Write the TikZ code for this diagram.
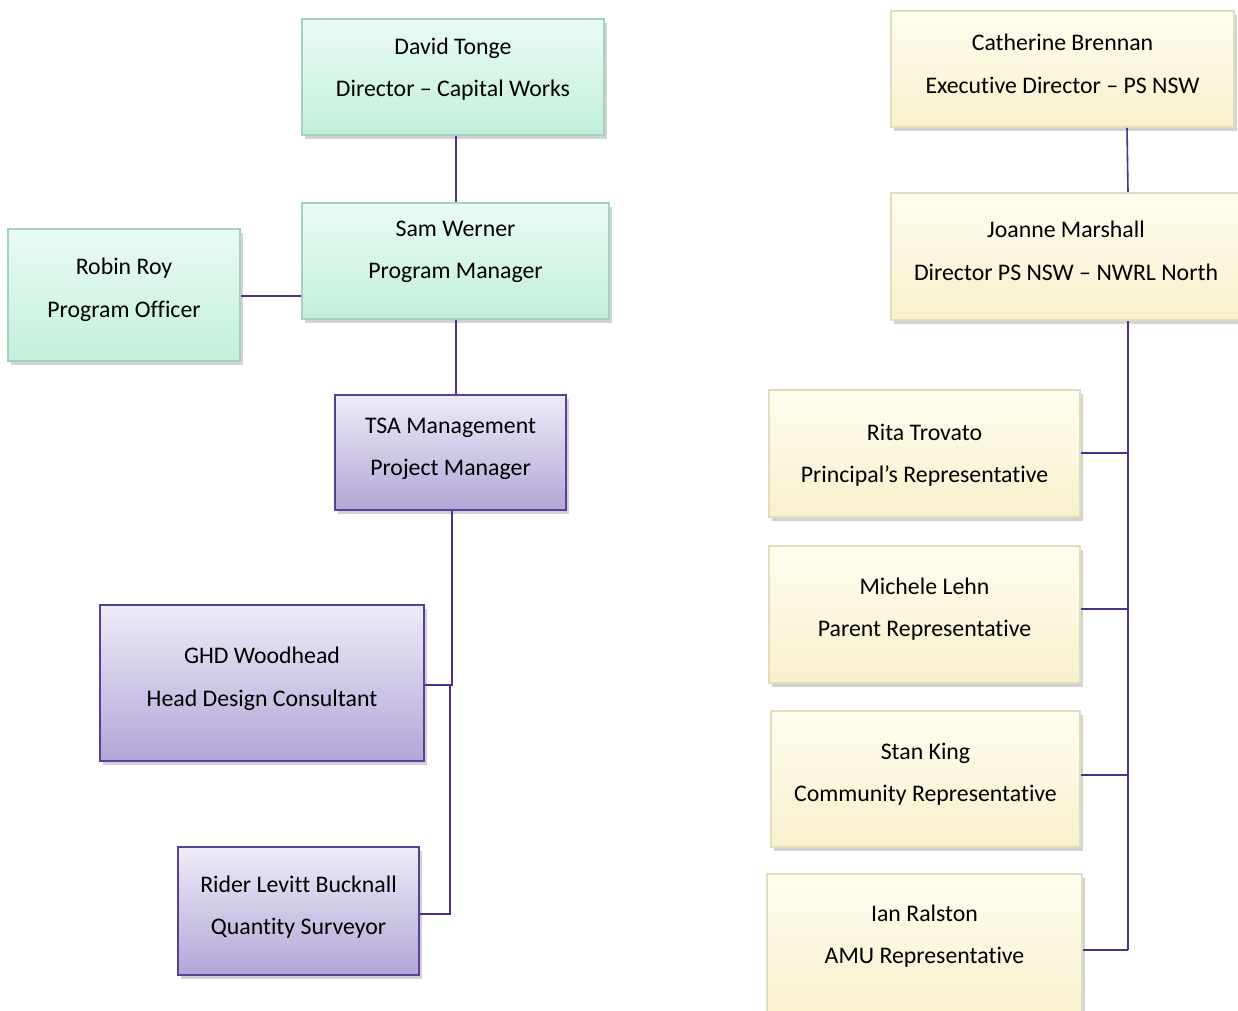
\documentclass[tikz,border=0pt]{standalone}
\usepackage{fontspec}
\setmainfont[Ligatures=NoCommon]{Carlito}
\usetikzlibrary{shadows}
\definecolor{gtop}{HTML}{E9FBF4}
\definecolor{gbot}{HTML}{C2EFDA}
\definecolor{gbor}{HTML}{A3D2C0}
\definecolor{ptop}{HTML}{EEEBF7}
\definecolor{pbot}{HTML}{B2A6D7}
\definecolor{pbor}{HTML}{5A3E98}
\definecolor{ytop}{HTML}{FEFDEE}
\definecolor{ybot}{HTML}{F8F0CD}
\definecolor{ybor}{HTML}{E2DDBD}
\definecolor{conn}{HTML}{4E2F8F}
\tikzset{
  basebox/.style={rectangle, inner sep=0pt, line width=1.6pt,
    drop shadow={shadow xshift=3pt, shadow yshift=-4pt, opacity=0.25, fill=black!70}},
  greenbox/.style={basebox, draw=gbor, top color=gtop, bottom color=gbot},
  purplebox/.style={basebox, draw=pbor, top color=ptop, bottom color=pbot},
  yellowbox/.style={basebox, draw=ybor, top color=ytop, bottom color=ybot},
  lbl/.style={align=center, inner sep=0pt, font=\fontsize{23.8}{42.5}\selectfont, text=black},
  link/.style={draw=conn, line width=1.6pt},
}
% name, style, x1, y1, x2, y2, text-mid-y, line1, line2
\newcommand\orgbox[9]{%
  \node[#2, minimum width={(#5-#3)*1pt}, minimum height={(#6-#4)*1pt}] (#1) at ({(#3+#5)/2},{(#4+#6)/2}) {};
  \node[lbl] (#1t) at ({(#3+#5)/2},{#7+1}) {#8\\#9};
}
\begin{document}
\begin{tikzpicture}[x=1pt,y=-1pt]
\useasboundingbox[fill=white] (0,0) rectangle (1238,1010);
\orgbox{david}{greenbox}{302}{19}{604}{135}{68}{David Tonge}{Director – Capital Works}
\orgbox{sam}{greenbox}{302}{203}{609}{319}{251}{Sam Werner}{Program Manager}
\orgbox{robin}{greenbox}{8}{229}{240}{361}{289}{Robin Roy}{Program Officer}
\orgbox{tsa}{purplebox}{335}{395}{566}{510}{448}{TSA Management}{Project Manager}
\orgbox{ghd}{purplebox}{100}{605}{424}{761}{678}{GHD Woodhead}{Head Design Consultant}
\orgbox{rider}{purplebox}{178}{847}{419}{975}{906}{Rider Levitt Bucknall}{Quantity Surveyor}
\orgbox{cath}{yellowbox}{891}{11}{1234}{127}{63}{Catherine Brennan}{Executive Director – PS NSW}
\orgbox{joanne}{yellowbox}{891}{193}{1241}{320}{250}{Joanne Marshall}{Director PS NSW – NWRL North}
\orgbox{rita}{yellowbox}{769}{390}{1080}{517}{454}{Rita Trovato}{Principal’s Representative}
\orgbox{michele}{yellowbox}{769}{546}{1080}{683}{608}{Michele Lehn}{Parent Representative}
\orgbox{stan}{yellowbox}{771}{711}{1080}{847}{773}{Stan King}{Community Representative}
\orgbox{ian}{yellowbox}{767}{874}{1082}{1024}{935}{Ian Ralston}{AMU Representative}
% connectors
\draw[link] (david.south -| 456,0) -- (sam.north -| 456,0);
\draw[link] (robin.east |- 0,296) -- (sam.west |- 0,296);
\draw[link] (sam.south -| 456,0) -- (tsa.north -| 456,0);
\coordinate (tj) at (452,685);
\draw[link] (tsa.south -| 452,0) -- (tj) -- (ghd.east |- tj);
\coordinate (tj2) at (450,685);
\draw[link] (tj2) |- (rider.east |- 0,914);
\draw[link] (cath.south -| 1127,0) -- (joanne.north -| 1128,0);
\coordinate (jb) at (1128,950);
\draw[link] (joanne.south -| 1128,0) -- (jb);
\draw[link] (rita.east |- 0,453) -- (1128,453);
\draw[link] (michele.east |- 0,609) -- (1128,609);
\draw[link] (stan.east |- 0,775) -- (1128,775);
\draw[link] (ian.east |- jb) -- (jb);
\end{tikzpicture}
\end{document}
